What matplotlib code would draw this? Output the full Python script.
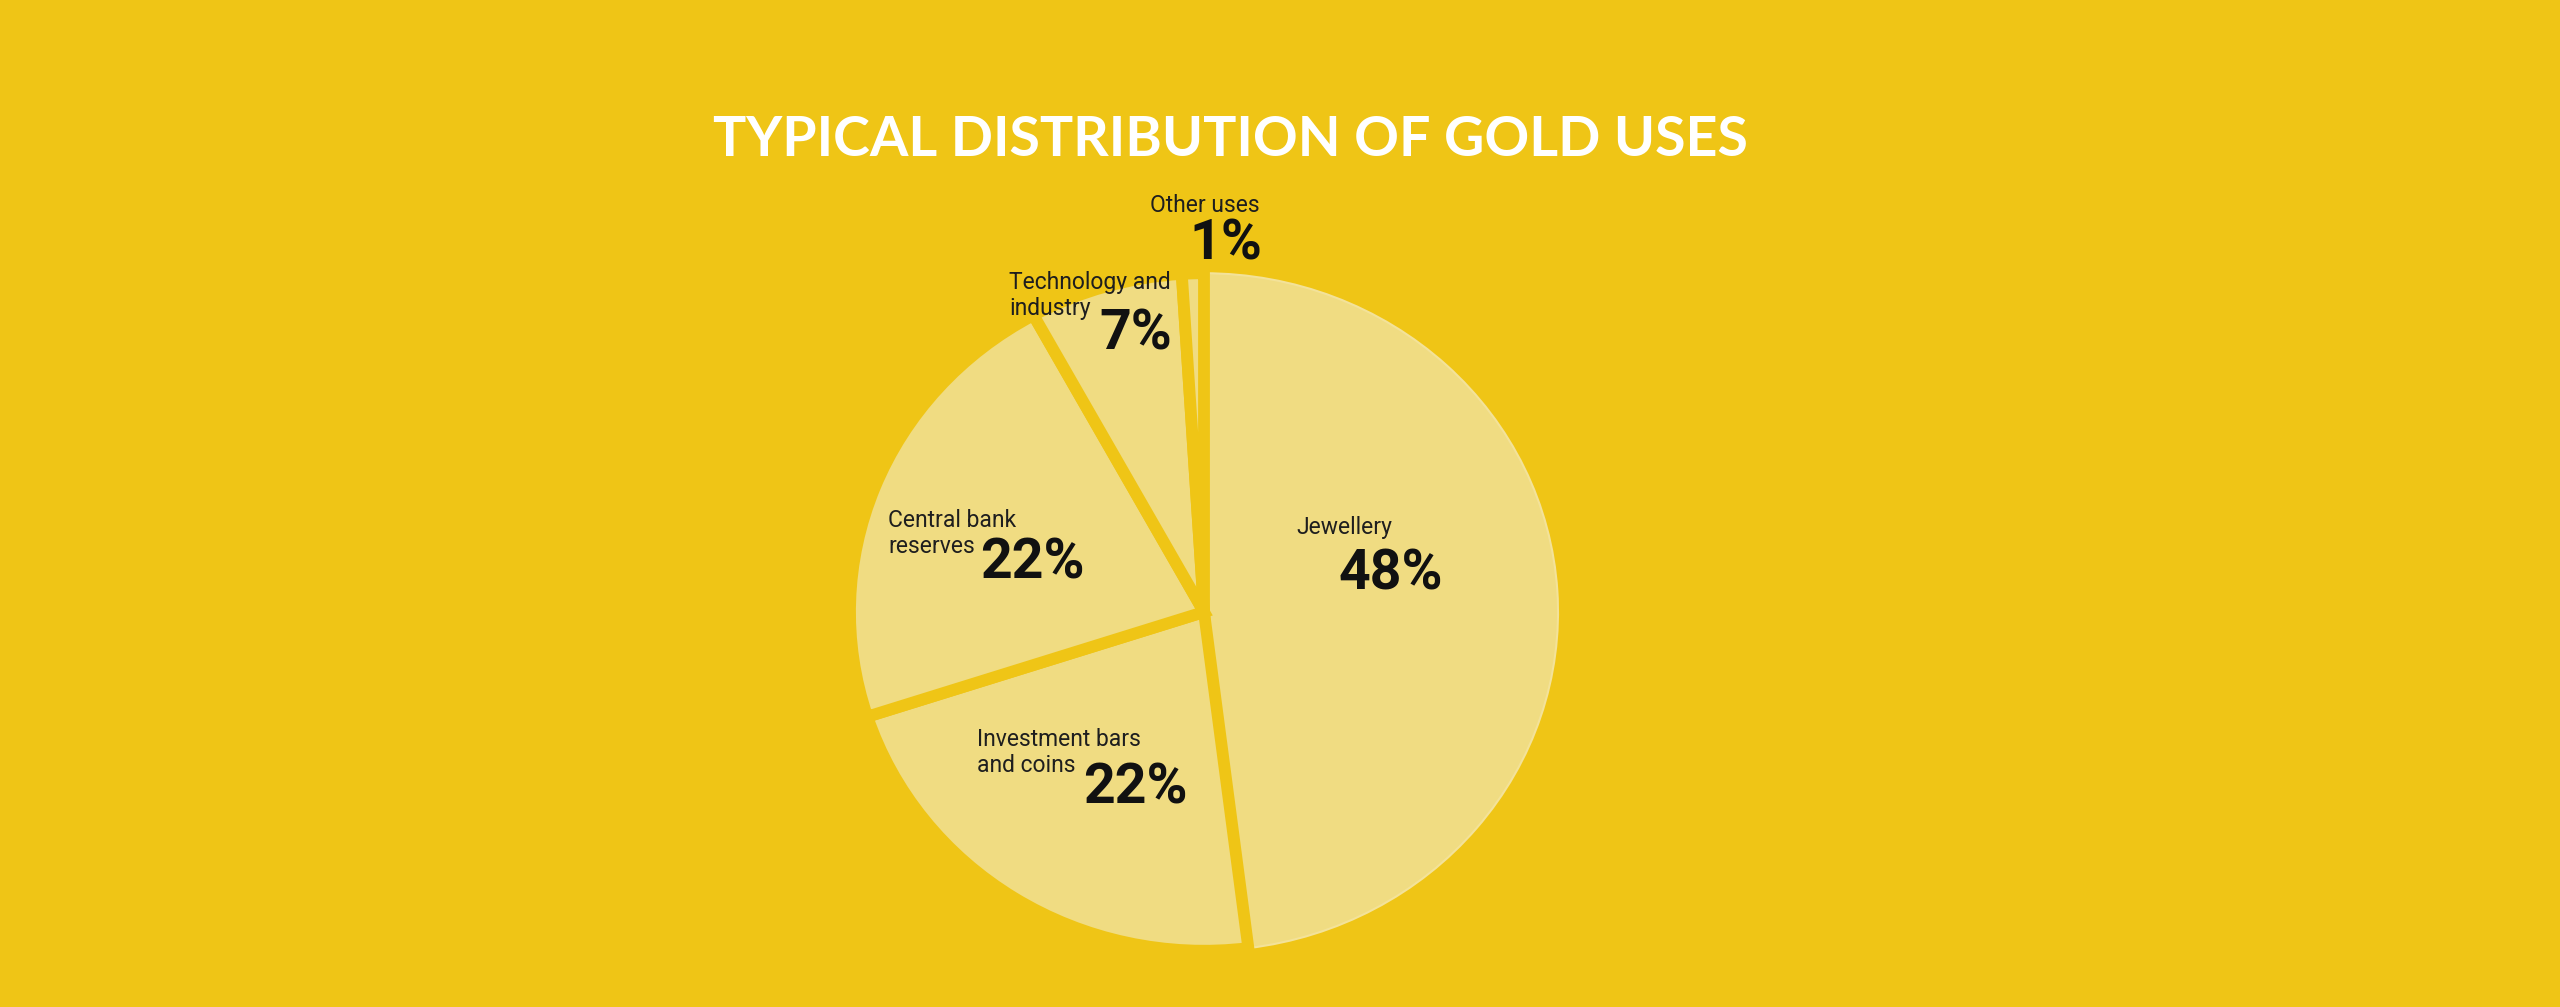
import numpy as np
import matplotlib.pyplot as plt

# data
uses = ['Jewellery', 'Investment bars\nand coins', 'Central bank\nreserves',
        'Technology and\nindustry', 'Other uses']
shares = [48, 22, 22, 7, 1]
pct_labels = ['48%', '22%', '22%', '7%', '1%']

bg = '#EFC516'
pale = '#F0DC82'
rim = '#F3E299'

W, H = 2560, 1007
k = 1.045  # pie is a little wider than tall in the original

fig = plt.figure(figsize=(W / 100, H / 100), dpi=100)
fig.patch.set_facecolor(bg)
ax = fig.add_axes([0, 0, 1, 1])
ax.set_facecolor(bg)

def px(x, y):
    # image pixel (y down) -> data coords
    return x, (H - y) * k

cx, cy = px(1204, 612)
wedges, _ = ax.pie(shares, startangle=90, counterclock=False,
                   center=(cx, cy), radius=354,
                   explode=[0.026, 0.008, 0.008, 0.006, 0.006],
                   colors=[pale] * len(shares),
                   wedgeprops=dict(edgecolor=bg, linewidth=8.5))
wedges[0].set_edgecolor(rim)
wedges[0].set_linewidth(1.5)

ax.set_aspect('auto')
ax.set_xlim(0, W)
ax.set_ylim(0, H * k)
ax.axis('off')

# title
fig.text(1230 / W, 1 - 140 / H, 'TYPICAL DISTRIBUTION OF GOLD USES',
         color='white', fontsize=40, fontweight='bold', family='Lato',
         ha='center', va='center')

# slice labels: (name x, name baseline y, pct x, pct baseline y)
lab_pos = [
    (1296, 534, 1339, 590),
    (977, 746, 1083, 803),
    (888, 527, 980, 579),
    (1009, 289, 1099, 349),
    (1150, 212, 1189, 260),
]
for name, pct, (nx, ny, tx, ty) in zip(uses, pct_labels, lab_pos):
    lines = name.split('\n')
    for i, line in enumerate(lines):
        xx, yy = px(nx, ny + i * 26)
        ax.text(xx, yy, line, fontsize=16.5, family='Roboto', fontweight='normal',
                color='#1e1e1e', ha='left', va='baseline')
    x, y = px(tx, ty)
    ax.text(x, y, pct, fontsize=40, family='Roboto', fontweight='bold',
            color='#111111', ha='left', va='baseline')

fig.savefig('out.png', dpi=100, facecolor=bg)
